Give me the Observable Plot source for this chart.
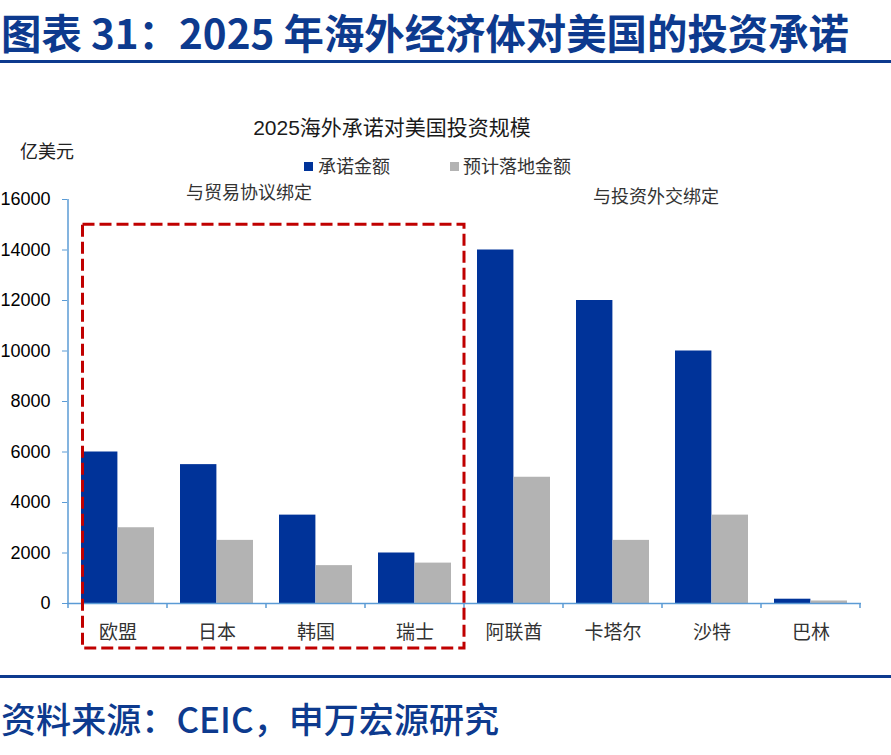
<!DOCTYPE html>
<html><head><meta charset="utf-8">
<script src="https://cdn.jsdelivr.net/npm/d3@7"></script>
<script src="https://cdn.jsdelivr.net/npm/@observablehq/plot@0.6"></script>
<style>
body{margin:0;background:#fff;}
#wrap{position:relative;width:891px;height:755px;overflow:hidden;font-family:"Liberation Sans","Noto Sans CJK SC",sans-serif;background:#fff;}
.abs{position:absolute;white-space:nowrap;}
#title{left:1px;top:10px;font-family:"Noto Sans CJK SC",sans-serif;font-weight:bold;font-size:40.4px;line-height:44px;color:#0d3a8e;}
#rule1{left:0;top:60px;width:891px;height:3px;background:#0d3a8e;}
#rule2{left:0;top:675px;width:891px;height:3px;background:#0d3a8e;}
#source{left:1px;top:698px;font-family:"Noto Sans CJK SC",sans-serif;font-weight:500;font-size:35.1px;line-height:40px;color:#0d3a8e;}
#ctitle{left:392px;top:116px;transform:translateX(-50%);font-size:21px;line-height:24px;color:#1a1a1a;}
#unit{left:20px;top:140px;font-size:18px;line-height:24px;color:#222;}
.leg{top:155px;font-size:18px;line-height:24px;color:#333;}
.sw{width:9px;height:9px;top:162px;}
.grp{font-size:18px;line-height:24px;color:#333;transform:translateX(-50%);}
#chart{left:0;top:0;}
</style></head><body>
<div id="wrap">
  <div id="chart" class="abs"></div>
  <div class="abs" id="title">图表 31：2025 年海外经济体对美国的投资承诺</div>
  <div class="abs" id="rule1"></div>
  <div class="abs" id="ctitle">2025海外承诺对美国投资规模</div>
  <div class="abs" id="unit">亿美元</div>
  <div class="abs sw" id="sw1"></div>
  <div class="abs leg" id="leg1"></div>
  <div class="abs sw" id="sw2"></div>
  <div class="abs leg" id="leg2"></div>
  <div class="abs grp" id="grp1" style="left:249px;top:181px;"></div>
  <div class="abs grp" id="grp2" style="left:656px;top:185px;"></div>
  <div class="abs" id="rule2"></div>
  <div class="abs" id="source">资料来源：CEIC，申万宏源研究</div>
</div>
<script>
const countries = ["欧盟","日本","韩国","瑞士","阿联酋","卡塔尔","沙特","巴林"];
const committed = [6000,5500,3500,2000,14000,12000,10000,170];
const expected  = [3000,2500,1500,1600,5000,2500,3500,100];
const seriesNames = ["承诺金额","预计落地金额"];
const seriesColors = ["#003399","#b3b3b3"];
const yTicks = [0,2000,4000,6000,8000,10000,12000,14000,16000];
const groupLabels = ["与贸易协议绑定","与投资外交绑定"];
const tradeGroup = ["欧盟","日本","韩国","瑞士"];
const boxTop = 15000;

const AXIS = "#5b9bd5";
const rows = countries.map((c,i)=>({country:c, committed:committed[i], expected:expected[i]}));

const chart = Plot.plot({
  width: 891, height: 670,
  marginLeft: 67, marginRight: 30, marginTop: 199, marginBottom: 67,
  style: {fontFamily: '"Liberation Sans","Noto Sans CJK SC",sans-serif', background: "transparent", overflow: "visible"},
  x: {domain: countries, padding: 0},
  y: {domain: [0,16000]},
  marks: [
    Plot.barY(rows, {x:"country", y:"committed", fill: seriesColors[0], insetLeft: 13, insetRight: 49.6}),
    Plot.barY(rows, {x:"country", y:"expected", fill: seriesColors[1], insetLeft: 49.6, insetRight: 13}),
    Plot.ruleY([0], {stroke: AXIS, strokeWidth: 1.5}),
    Plot.axisY({ticks: yTicks, tickSize: 5, tickPadding: 12, stroke: AXIS, fill: "#000", color: "#000", fontSize: 18, tickFormat: "d", label: null}),
    Plot.axisX({tickSize: 0, tickPadding: 22, fill: "#333", fontSize: 19, label: null})
  ]
});
document.getElementById("chart").appendChild(chart);

const xs = chart.scale("x"), ys = chart.scale("y");
const bw = xs.bandwidth;
const svg = d3.select(chart);
const g = svg.append("g");
const y0 = ys.apply(0), yTop = ys.apply(16000);
const xL = xs.apply(countries[0]);
// y axis line
g.append("line").attr("x1",xL).attr("x2",xL).attr("y1",yTop).attr("y2",y0)
  .attr("stroke",AXIS).attr("stroke-width",1.5);
// boundary ticks on x axis
const bounds = countries.map(c=>xs.apply(c)).concat([xs.apply(countries[countries.length-1])+bw]);
bounds.forEach(b=>{
  g.append("line").attr("x1",b).attr("x2",b).attr("y1",y0).attr("y2",y0+5)
    .attr("stroke",AXIS).attr("stroke-width",1.5);
});
// dashed box around the trade group
const rx1 = xs.apply(tradeGroup[0]) + 13 + 1.5;
const rx2 = xs.apply(tradeGroup[tradeGroup.length-1]) + bw;
const ry1 = ys.apply(boxTop);
const ry2 = y0 + 45;
g.append("rect").attr("x",rx1).attr("y",ry1).attr("width",rx2-rx1).attr("height",ry2-ry1)
  .attr("fill","none").attr("stroke","#c00000").attr("stroke-width",3)
  .attr("stroke-dasharray","12,5");

// legend & labels
document.getElementById("sw1").style.cssText += `left:304px;background:${seriesColors[0]};`;
document.getElementById("sw2").style.cssText += `left:450px;background:${seriesColors[1]};`;
document.getElementById("leg1").textContent = seriesNames[0];
document.getElementById("leg1").style.left = "318px";
document.getElementById("leg2").textContent = seriesNames[1];
document.getElementById("leg2").style.left = "463px";
document.getElementById("grp1").textContent = groupLabels[0];
document.getElementById("grp2").textContent = groupLabels[1];
</script>
</body></html>
